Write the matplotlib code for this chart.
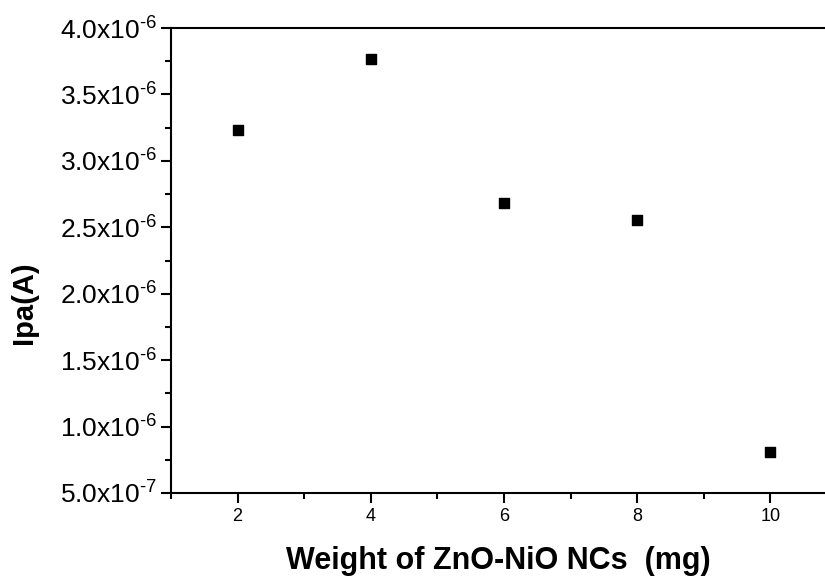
import matplotlib
matplotlib.use("Agg")
import matplotlib.pyplot as plt
from matplotlib.ticker import FuncFormatter, MultipleLocator

# anodic peak current vs. catalyst loading
weights_mg = [2, 4, 6, 8, 10]
ipa_amps = [3.23e-6, 3.77e-6, 2.68e-6, 2.555e-6, 0.81e-6]

plt.rcParams["font.family"] = ["Liberation Sans", "DejaVu Sans"]
plt.rcParams["mathtext.fontset"] = "custom"
plt.rcParams["mathtext.rm"] = "Liberation Sans"
plt.rcParams["mathtext.default"] = "regular"


def sci_label(v, pos):
    if v == 0:
        return "0"
    exp = int(f"{v:e}".split("e")[1])
    mant = v / 10 ** exp
    # plain hyphen in the exponent, as Origin prints it
    return f"{mant:.1f}x10$^{{\\text{{{exp}}}}}$"


fig = plt.figure(figsize=(8.25, 5.8), dpi=100)
ax = fig.add_axes([171 / 825, 1 - 493 / 580, 1 - 171 / 825, (493 - 28) / 580])

ax.scatter(weights_mg, ipa_amps, marker="s", s=52, color="black", zorder=3)

ax.set_xlim(1, 10.82)
ax.set_ylim(5e-7, 4e-6)
ax.xaxis.set_major_locator(MultipleLocator(2))
ax.xaxis.set_minor_locator(MultipleLocator(1))
ax.yaxis.set_major_locator(MultipleLocator(5e-7))
ax.yaxis.set_minor_locator(MultipleLocator(2.5e-7))
ax.yaxis.set_major_formatter(FuncFormatter(sci_label))

for side in ("left", "bottom", "top"):
    ax.spines[side].set_linewidth(1.5)
ax.spines["right"].set_visible(False)

ax.tick_params(which="major", direction="out", length=7, width=1.5)
ax.tick_params(which="minor", direction="out", length=4, width=1.5)
ax.tick_params(axis="y", labelsize=19, pad=3)
ax.tick_params(axis="x", labelsize=13, pad=4)
ax.tick_params(top=False, right=False, which="both")

ax.set_xlabel("Weight of ZnO-NiO NCs  (mg)", fontsize=22, fontweight="bold",
              labelpad=15)
ax.set_ylabel("Ipa(A)", fontsize=21, fontweight="bold")
ax.yaxis.set_label_coords(-0.203, 0.41)

fig.savefig("out.png", dpi=100)
